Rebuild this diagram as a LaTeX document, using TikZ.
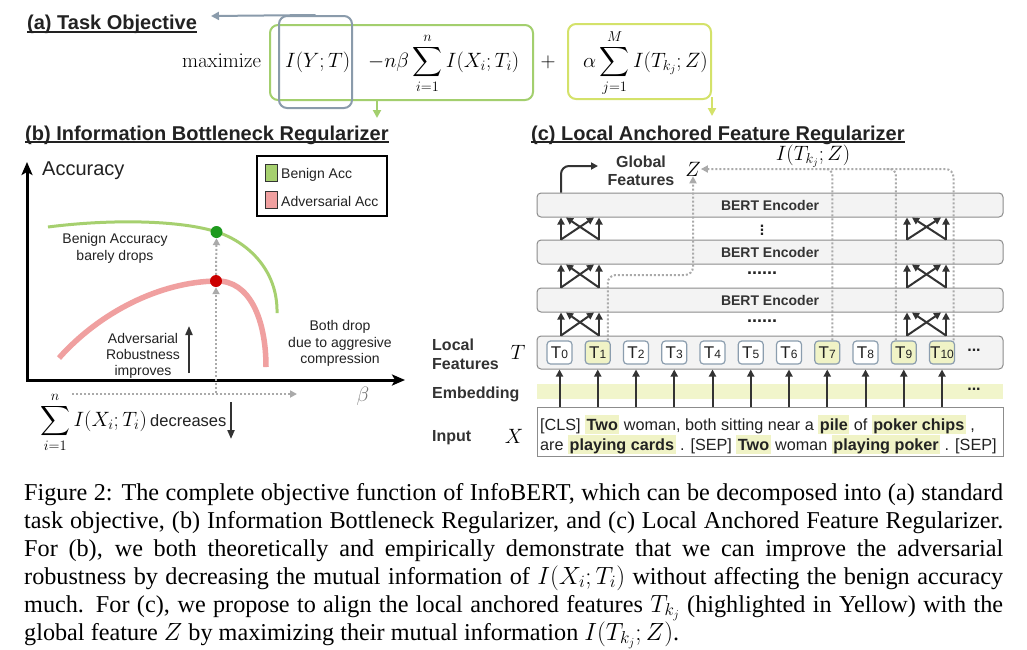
\documentclass[tikz,border=0pt]{standalone}
\usepackage{exscale}
\usepackage[no-math]{fontspec}
\setmainfont{Liberation Serif}
\setsansfont{Liberation Sans}
\usetikzlibrary{arrows.meta,calc}
\definecolor{gboxc}{HTML}{8A9BAB}
\definecolor{lgreen}{HTML}{A3CF6E}
\definecolor{lyellow}{HTML}{D4E26A}
\definecolor{curveg}{HTML}{A6D06F}
\definecolor{curver}{HTML}{F0A0A0}
\definecolor{dotg}{HTML}{1E9A1E}
\definecolor{dotr}{HTML}{CC0000}
\definecolor{dgray}{HTML}{333333}
\definecolor{txt}{HTML}{222222}
\definecolor{lgray}{HTML}{AAAAAA}
\definecolor{encfill}{HTML}{F3F3F3}
\definecolor{encdraw}{HTML}{8C8C8C}
\definecolor{tdraw}{HTML}{8B9DAE}
\definecolor{hlfill}{HTML}{F0F3C6}
\definecolor{embfill}{HTML}{F1F5CB}
\newcommand{\fs}[1]{\fontsize{#1}{#1}\selectfont}
\newcommand{\hlstrut}{\rule[-4pt]{0pt}{19pt}}
\newcommand{\hlw}[1]{{\setlength{\fboxsep}{0pt}\colorbox{hlfill}{\hlstrut\kern1.5pt\textbf{#1}\kern1.5pt}}}
\newcommand{\tlab}[1]{T{\fontsize{12}{12}\selectfont #1}}
\begin{document}
\begin{tikzpicture}[x=1pt,y=-1pt]
\tikzset{
 ttl/.style={anchor=base west, inner sep=0, font=\sffamily\bfseries\fs{20}, text=txt},
 sfb/.style={anchor=base, inner sep=0, font=\sffamily\fs{14}, text=txt},
 mth/.style={inner sep=0, font=\fs{20}},
 eqn/.style={anchor=base west, inner sep=0, font=\fs{21}},
 lbl/.style={anchor=base west, inner sep=0, font=\sffamily\bfseries\fs{16}, text=dgray},
 arrd/.style={draw=dgray, line width=2pt, -{Triangle[length=7pt,width=7pt]}},
 dotl/.style={draw=lgray, line width=2pt, dash pattern=on 2pt off 2pt},
 dtip/.style={-{Triangle[length=7pt,width=7pt,fill=lgray]}},
 enc/.style={draw=encdraw, fill=encfill, rounded corners=4pt, line width=1pt, minimum width=466pt, minimum height=24pt, inner sep=0, font=\sffamily\bfseries\fs{14}, text=dgray},
 tbox/.style={draw=tdraw, fill=white, rounded corners=3.5pt, line width=1.2pt, minimum width=25pt, minimum height=23pt, inner sep=0, font=\sffamily\fs{17}, text=txt},
 tboxh/.style={tbox, fill=hlfill},
 capline/.style={anchor=base west, inner sep=0, font=\fs{24.2}},
 dotsn/.style={inner sep=0, font=\sffamily\bfseries\fs{16}, text=txt},
}
\fill[white] (0,0) rectangle (1027,649);
\useasboundingbox (0,0) rectangle (1027,649);

% ---------- (a) ----------
\node[ttl] (ta) at (27,29.5) {(a) Task Objective};
\draw[txt, line width=1.5pt] ($(ta.base west)+(0,2.5)$) -- ($(ta.base east)+(0,2.5)$);
\node[draw=lgreen, line width=2pt, rounded corners=8pt, minimum width=263pt, minimum height=75pt, inner sep=0] (grb) at (401.5,62.5) {};
\node[draw=gboxc, line width=2pt, rounded corners=8pt, minimum width=73pt, minimum height=92pt, inner sep=0] (gb) at (315.5,62) {};
\node[draw=lyellow, line width=2pt, rounded corners=8pt, minimum width=143pt, minimum height=75pt, inner sep=0] (yb) at (639.5,61.5) {};
\node[eqn] (mx) at (182,67) {$\mathrm{maximize}$};
\node[eqn] (iyt) at (285,67) {$I(Y;T)$};
\node[eqn] (ib) at (368,67) {$\displaystyle -n\beta\sum_{i=1}^{n} I(X_i;T_i)$};
\node[eqn, anchor=base] (pl) at (548,67) {$+$};
\node[eqn] (la) at (583,67) {$\displaystyle \alpha\sum_{j=1}^{M} I(T_{k_j};Z)$};
\coordinate (aend) at (211,16);
\draw[gboxc, line width=2pt, -{Triangle[length=8pt,width=8pt]}] (gb.north) -- (aend);
\coordinate (gx) at (377,0);
\draw[lgreen, line width=2pt, -{Triangle[length=8pt,width=8pt]}] (gx |- grb.south) -- ++(0,17);
\draw[lyellow, line width=2pt, -{Triangle[length=8pt,width=8pt]}] ($(yb.south east)+(0,-3)$) -- ++(0,19);

% ---------- (b) ----------
\node[ttl] (tb) at (25,140) {(b) Information Bottleneck Regularizer};
\draw[txt, line width=1.5pt] ($(tb.base west)+(0,2)$) -- ($(tb.base east)+(0,2)$);
\coordinate (O) at (27,380);
\coordinate (ytop) at (27,162);
\coordinate (xend) at (405,380);
\draw[black, line width=3pt, {Stealth[length=13pt,width=11pt,inset=3pt]}-{Stealth[length=13pt,width=11pt,inset=3pt]}] (ytop) -- (O) -- (xend);
\node[anchor=base west, inner sep=0, font=\sffamily\fs{20}, text=txt] (acc) at (42,175) {Accuracy};
\node[draw=black, line width=2pt, minimum width=130pt, minimum height=60pt, inner sep=0] (leg) at (322,186) {};
\node[draw=black!80, line width=0.8pt, fill=curveg, minimum width=12pt, minimum height=17pt, inner sep=0] (lg) at (271,172.5) {};
\node[draw=black!80, line width=0.8pt, fill=curver, minimum width=12pt, minimum height=17pt, inner sep=0] (lr) at (271,200) {};
\node[sfb, anchor=base west] (lgt) at (281,178) {Benign Acc};
\node[sfb, anchor=base west] (lrt) at (281,206) {Adversarial Acc};
% curves
\draw[curveg, line width=3pt] (48,227) .. controls (110,219) and (180,220) .. (217,232) .. controls (245,241) and (278,268) .. (277,313);
\draw[curver, line width=5.5pt] (59,358) .. controls (100,312) and (160,282) .. (216,281) .. controls (250,280) and (266,320) .. (266,367);
\node[circle, fill=dotg, minimum size=12pt, inner sep=0] (gd) at (216.5,232) {};
\node[circle, fill=dotr, minimum size=12pt, inner sep=0] (rd) at (216,281) {};
\coordinate (vb) at (216,393);
\coordinate (hs) at (72,394);
\coordinate (he) at (297,394);
\draw[dotl, dtip] (vb) -- (rd.south);
\draw[dotl, dtip] (rd.north) -- (gd.south);
\draw[dotl, dtip] (hs) -- (he);
\node[sfb] (ba1) at (115,243) {Benign Accuracy};
\node[sfb] (ba2) at (115,260) {barely drops};
\node[sfb] (ar1) at (143,343) {Adversarial};
\node[sfb] (ar2) at (143,359) {Robustness};
\node[sfb] (ar3) at (143,375) {improves};
\coordinate (ua1) at (189,373);
\coordinate (ua2) at (189,326);
\draw[dgray, line width=2pt, -{Triangle[length=9pt,width=7pt]}] (ua1) -- (ua2);
\node[sfb] (bd1) at (340,330) {Both drop};
\node[sfb] (bd2) at (340,347) {due to aggresive};
\node[sfb] (bd3) at (340,363) {compression};
\node[mth, text=black!55] (beta) at (363,396) {$\beta$};
\node[anchor=base west, inner sep=0, font=\fs{20}] (sumt) at (40,426) {$\displaystyle\sum_{i=1}^{n} I(X_i;T_i)$\,{\sffamily\fs{16.5}\color{txt}decreases}};
\coordinate (da1) at (231,402);
\coordinate (da2) at (231,439);
\draw[dgray, line width=2pt, -{Triangle[length=9pt,width=7pt]}] (da1) -- (da2);

% ---------- (c) ----------
\node[ttl] (tc) at (531,140) {(c) Local Anchored Feature Regularizer};
\draw[txt, line width=1.5pt] ($(tc.base west)+(0,2)$) -- ($(tc.base east)+(0,2)$);
\node[enc] (enc1) at (770,205) {BERT Encoder};
\node[enc] (enc2) at (770,252) {BERT Encoder};
\node[enc] (enc3) at (770,300) {BERT Encoder};
\node[draw=encdraw, fill=encfill, rounded corners=4pt, line width=1pt, minimum width=466pt, minimum height=33pt, inner sep=0] (trow) at (770,352.5) {};
\node[fill=embfill, minimum width=466pt, minimum height=15pt, inner sep=0] (emb) at (770,391.5) {};
\node[draw=encdraw, fill=white, line width=0.8pt, minimum width=466pt, minimum height=49pt, inner sep=0] (inp) at (770,431.5) {};
\node[dotsn] (vd) at (762,227) {\vdots};
\node[dotsn, font=\sffamily\bfseries\fs{18}] (hd1) at (762,273) {......};
\node[dotsn, font=\sffamily\bfseries\fs{18}] (hd2) at (762,321) {......};
\foreach \i in {0,2,3,4,5,6,8} \node[tbox] (T\i) at ({559.5+38.25*\i},352.5) {\tlab{\i}};
\foreach \i in {1,7,9,10} \node[tboxh] (T\i) at ({559.5+38.25*\i},352.5) {\tlab{\i}};
\node[dotsn] (td) at (974,350) {...};
\node[dotsn] (ed) at (974,389) {...};
\foreach \i in {0,...,10} \draw[arrd] (T\i |- inp.north) -- (T\i |- trow.south);
\coordinate (ca) at (561,0);
\coordinate (cb) at (599,0);
\coordinate (cc) at (907,0);
\coordinate (cd) at (946,0);
\foreach \lo/\up in {trow/enc3,enc3/enc2,enc2/enc1}{
  \foreach \a/\b in {ca/cb,cc/cd}{
    \draw[arrd] (\a |- \lo.north) -- (\a |- \up.south);
    \draw[arrd] (\b |- \lo.north) -- (\b |- \up.south);
    \draw[arrd] (\a |- \lo.north) -- ($(\b |- \up.south)+(-5,0)$);
    \draw[arrd] (\b |- \lo.north) -- ($(\a |- \up.south)+(5,0)$);
  }}
% global features
\coordinate (gfx) at (561,0);
\coordinate (gfe) at (598,166);
\draw[arrd, rounded corners=8pt] (gfx |- enc1.north) |- (gfe);
\node[lbl, anchor=base] (gf1) at (641,167) {Global};
\node[lbl, anchor=base] (gf2) at (641,185) {Features};
\node[mth] (Z) at (693,169) {$Z$};
\node[mth] (itz) at (813,156) {$I(T_{k_j};Z)$};
% dotted lines
\coordinate (d1) at ($(T1.north)+(10,0)$);
\coordinate (d1m) at (693,275);
\draw[dotl, dtip, rounded corners=8pt] (d1) |- (d1m) -- (Z.south);
\coordinate (d10) at ($(T10.north)+(11.5,0)$);
\draw[dotl, dtip, rounded corners=8pt] (d10) |- (Z.east);
\coordinate (d7) at ($(T7.north)+(5,0)$);
\draw[dotl, rounded corners=6pt] (d7) |- ($(d7 |- Z.east)+(-12,0)$);
\coordinate (d9) at ($(T9.north)+(-8,0)$);
\draw[dotl, rounded corners=6pt] (d9) |- ($(d9 |- Z.east)+(-12,0)$);
% left labels
\node[lbl] (lf1) at (432,350) {Local};
\node[lbl] (lf2) at (432,369) {Features};
\node[mth] (Tl) at (518,352) {$T$};
\node[lbl] (el) at (432,398) {Embedding};
\node[lbl] (il) at (432,441) {Input};
\node[mth] (Xl) at (514,436) {$X$};
% input text
\node[anchor=base west, inner sep=0, font=\sffamily\fs{16.2}, text=txt] (in1) at (540,430) {[CLS] \hlw{Two} woman, both sitting near a \hlw{pile} of \hlw{poker chips} ,};
\node[anchor=base west, inner sep=0, font=\sffamily\fs{16.2}, text=txt] (in2) at (540,450) {are \hlw{playing cards} . [SEP] \hlw{Two} woman \hlw{playing poker} . [SEP]};

% ---------- caption ----------
\node[capline] (c1) at (24,500) {\makebox[979pt][s]{Figure 2: The complete objective function of InfoBERT, which can be decomposed into (a) standard}};
\node[capline] (c2) at (24,528) {\makebox[979pt][s]{task objective, (b) Information Bottleneck Regularizer, and (c) Local Anchored Feature Regularizer.}};
\node[capline] (c3) at (24,556) {\makebox[979pt][s]{For (b), we both theoretically and empirically demonstrate that we can improve the adversarial}};
\node[capline] (c4) at (24,584) {\makebox[979pt][s]{robustness by decreasing the mutual information of $I(X_i;T_i)$ without affecting the benign accuracy}};
\node[capline] (c5) at (24,612) {\makebox[979pt][s]{much. For (c), we propose to align the local anchored features $T_{k_j}$ (highlighted in Yellow) with the}};
\node[capline] (c6) at (24,640) {global feature $Z$ by maximizing their mutual information $I(T_{k_j};Z)$.};
\end{tikzpicture}
\end{document}
